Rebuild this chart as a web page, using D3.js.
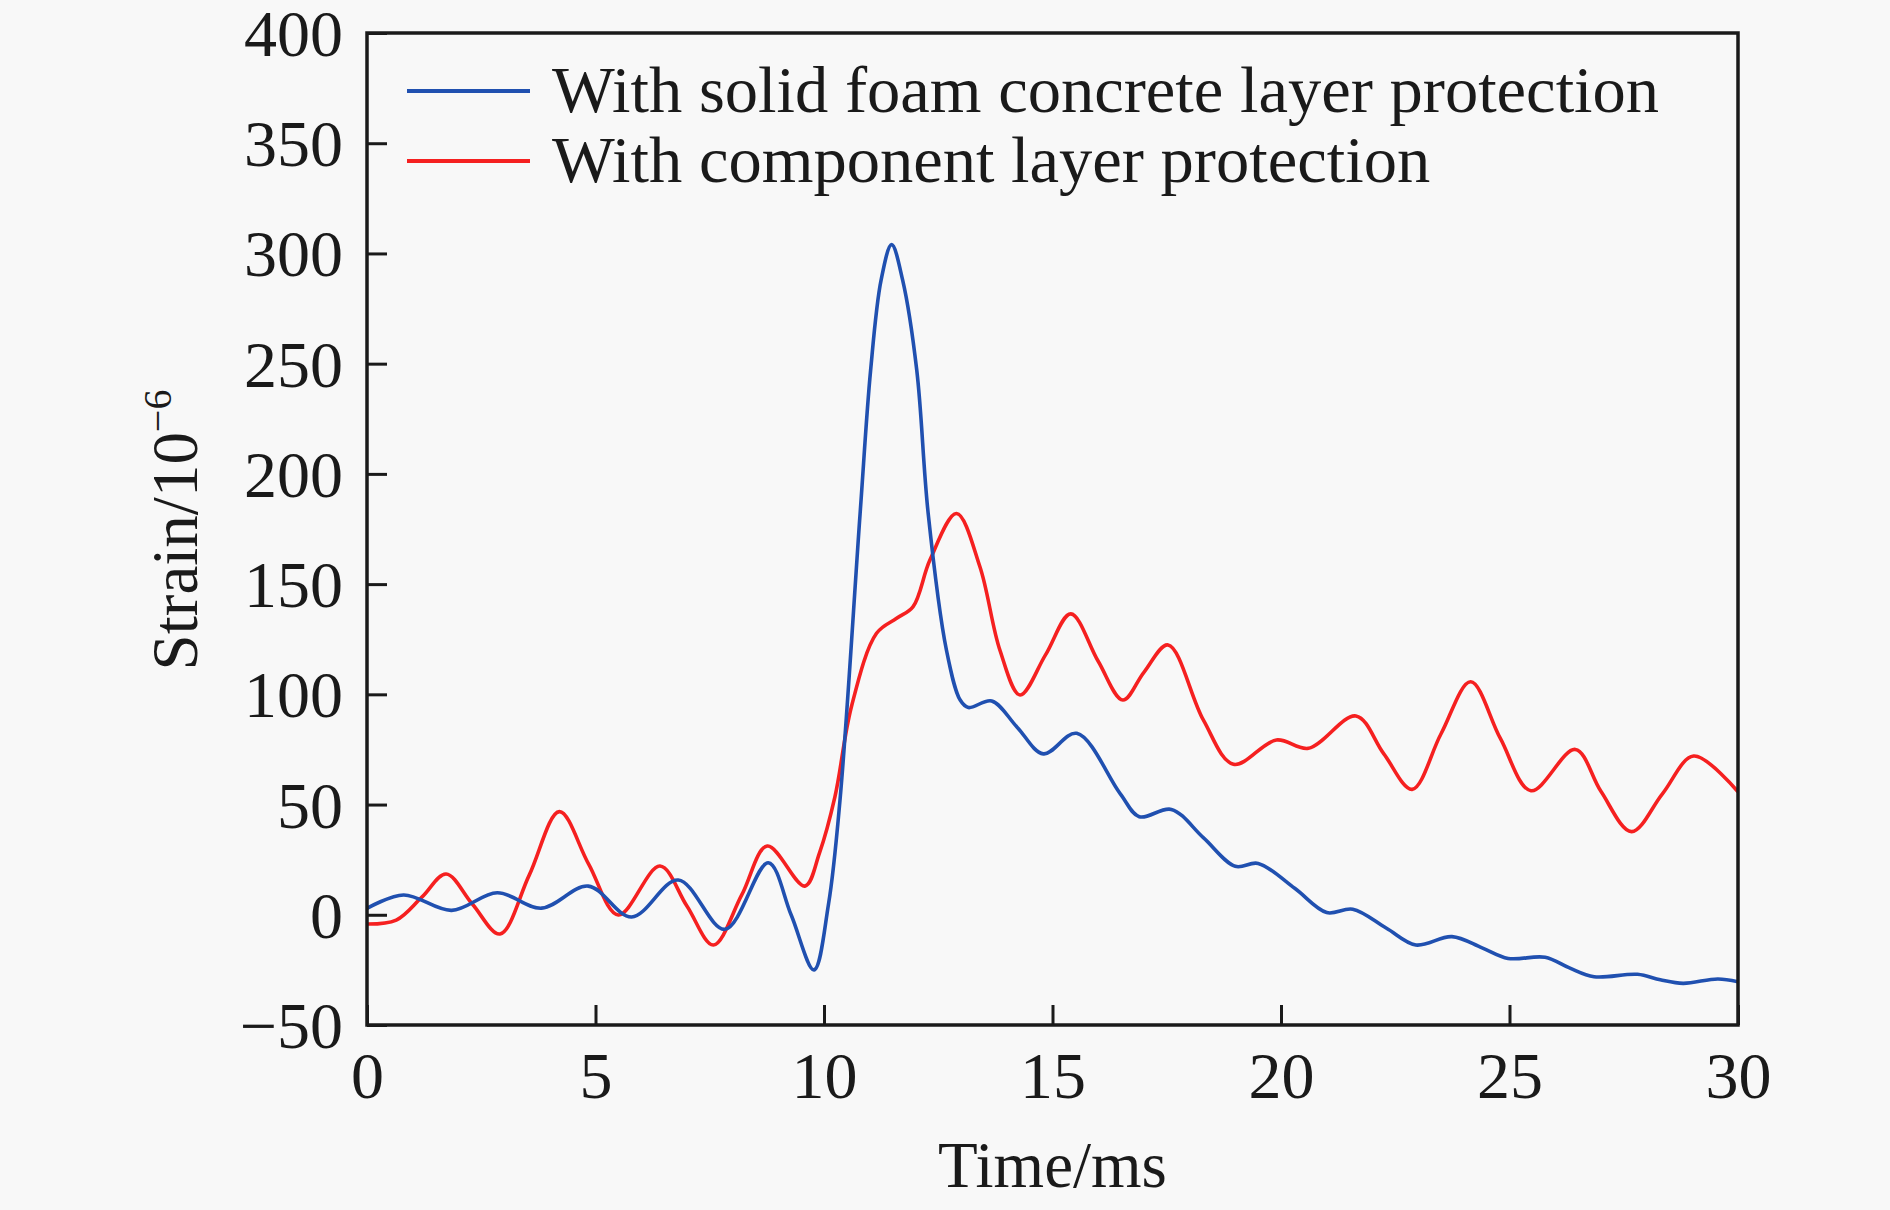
<!DOCTYPE html>
<html>
<head>
<meta charset="utf-8">
<script src="https://cdn.jsdelivr.net/npm/d3@7/dist/d3.min.js"></script>
<style>
  html, body { margin: 0; padding: 0; background: #f8f8f8; }
  svg { display: block; }
  text { font-family: "Liberation Serif", "Times New Roman", serif; fill: #1a1a1a; }
</style>
</head>
<body>
<svg id="chart" width="1890" height="1210"></svg>
<script>
// ---- data ----
const seriesNames = ["With solid foam concrete layer protection", "With component layer protection"];
const seriesColors = ["#2050b0", "#f52020"];

const solidTime = [0, 0.8, 1.85, 2.85, 3.82, 4.84, 5.79, 6.81, 7.83, 8.78, 9.28, 9.78, 10.1, 10.35, 10.79, 11.02, 11.25, 11.48, 11.72, 12.03, 12.28, 12.68, 12.98, 13.16, 13.67, 14.23, 14.8, 15.53, 16.48, 16.9, 17.6, 18.3, 19.0, 19.5, 20.3, 21.0, 21.57, 22.3, 22.95, 23.74, 24.4, 24.97, 25.78, 26.3, 26.85, 27.8, 28.3, 28.8, 29.56, 30];
const solidStrain = [2.9, 9, 2, 10, 3, 13, -1, 15.8, -6.6, 23.6, 0, -25, 5, 52, 182, 247, 288, 304, 288, 247, 182, 120, 97.4, 94, 97, 85, 73, 82.3, 55, 44.5, 47.8, 35, 22, 23.3, 12, 1, 2.5, -6, -13.7, -9.9, -15, -19.8, -19.3, -24, -28.1, -27, -29.5, -31.1, -29.1, -30.4];

const compTime = [0, 0.64, 1.2, 1.73, 2.3, 2.91, 3.55, 4.21, 4.85, 5.5, 6.41, 7.0, 7.58, 8.2, 8.76, 9.58, 9.9, 10.24, 10.6, 11.15, 11.59, 11.95, 12.32, 12.9, 13.41, 13.85, 14.29, 14.85, 15.4, 16.0, 16.54, 17.0, 17.53, 18.3, 18.96, 19.9, 20.6, 21.64, 22.25, 22.87, 23.5, 24.15, 24.8, 25.47, 26.44, 27.0, 27.67, 28.35, 29.03, 30];
const compStrain = [-4.2, -2.4, 8, 18.5, 5, -8.7, 18, 46.8, 23, -0.1, 22.1, 4, -13.7, 9, 31.2, 13, 28, 53.6, 94.4, 127.7, 134.5, 139.8, 161, 182, 158, 120, 99.7, 118, 136.5, 115, 97.4, 110, 122.4, 88.4, 68.3, 79.3, 75.5, 90.2, 73, 56.9, 82, 105.7, 80, 56.3, 75, 56, 37.7, 55, 72, 55.8];

const xTicks = [0, 5, 10, 15, 20, 25, 30];
const yTicks = [-50, 0, 50, 100, 150, 200, 250, 300, 350, 400];
const xLabel = "Time/ms";
const yLabelMain = "Strain/10";
const yLabelSup = "\u22126";

// ---- layout ----
const svg = d3.select("#chart");
const L = 367, R = 1738, T = 33, B = 1025;
const x = d3.scaleLinear().domain([0, 30]).range([L, R]);
const y = d3.scaleLinear().domain([-50, 400]).range([B, T]);

svg.append("rect").attr("width", 1890).attr("height", 1210).attr("fill", "#f8f8f8");

const series = [
  { name: seriesNames[0], color: seriesColors[0], pts: solidTime.map((t, i) => [t, solidStrain[i]]) },
  { name: seriesNames[1], color: seriesColors[1], pts: compTime.map((t, i) => [t, compStrain[i]]) }
];

const line = d3.line().x(d => x(d[0])).y(d => y(d[1])).curve(d3.curveCatmullRom.alpha(0.5));

svg.append("clipPath").attr("id", "clip")
  .append("rect").attr("x", L).attr("y", T).attr("width", R - L).attr("height", B - T);

const g = svg.append("g").attr("clip-path", "url(#clip)");
[series[1], series[0]].forEach(s => {
  g.append("path").datum(s.pts)
    .attr("d", line)
    .attr("fill", "none")
    .attr("stroke", s.color)
    .attr("stroke-width", 3.6)
    .attr("stroke-linejoin", "round");
});

// axes (ticks inward)
const fs = 66;
const xAxis = d3.axisBottom(x).tickValues(xTicks).tickSizeInner(-20).tickSizeOuter(0).tickPadding(0).tickFormat(d3.format("d"));
const gx = svg.append("g").attr("transform", `translate(0,${B})`).call(xAxis);
gx.select(".domain").remove();
gx.selectAll(".tick line").attr("stroke", "#1a1a1a").attr("stroke-width", 3);
gx.selectAll(".tick text").attr("font-size", fs).attr("font-family", "Liberation Serif").attr("fill", "#1a1a1a")
  .attr("y", 73).attr("dy", 0);

const yFmt = d => d < 0 ? "\u2212" + Math.abs(d) : String(d);
const yAxis = d3.axisLeft(y).tickValues(yTicks).tickSizeInner(-20).tickSizeOuter(0).tickFormat(yFmt);
const gy = svg.append("g").attr("transform", `translate(${L},0)`).call(yAxis);
gy.select(".domain").remove();
gy.selectAll(".tick line").attr("stroke", "#1a1a1a").attr("stroke-width", 3);
gy.selectAll(".tick text").attr("font-size", fs).attr("font-family", "Liberation Serif").attr("fill", "#1a1a1a")
  .attr("x", -24).attr("dy", "0.34em");

// frame
svg.append("rect").attr("x", L).attr("y", T).attr("width", R - L).attr("height", B - T)
  .attr("fill", "none").attr("stroke", "#1a1a1a").attr("stroke-width", 3.5);

// axis titles
svg.append("text").attr("x", (L + R) / 2).attr("y", 1187).attr("text-anchor", "middle")
  .attr("font-size", 65).text(xLabel);

const yt = svg.append("text").attr("transform", "translate(197,530) rotate(-90)")
  .attr("text-anchor", "middle").attr("font-size", 65);
yt.append("tspan").text(yLabelMain);
yt.append("tspan").attr("font-size", 40).attr("dy", -26).text(yLabelSup);

// legend
const legY = [91, 161];
series.forEach((s, i) => {
  svg.append("line").attr("x1", 407).attr("x2", 530).attr("y1", legY[i]).attr("y2", legY[i])
    .attr("stroke", s.color).attr("stroke-width", 4);
  svg.append("text").attr("x", 552).attr("y", legY[i] + 21).attr("font-size", 66.5).text(s.name);
});
</script>
</body>
</html>
